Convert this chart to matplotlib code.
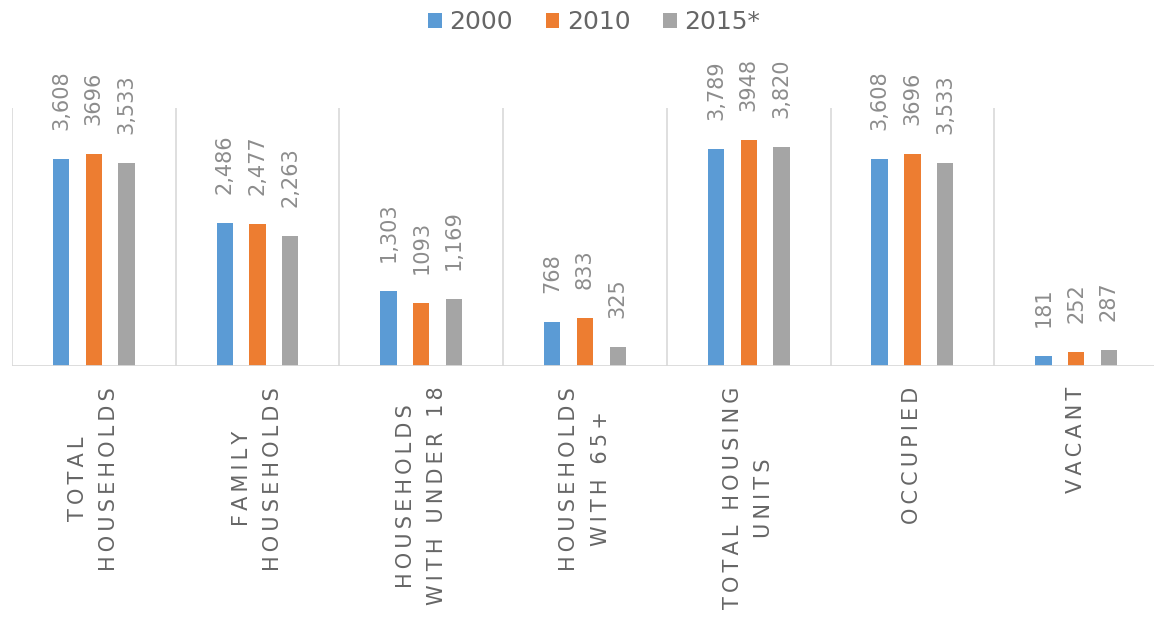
import numpy as np
import matplotlib
matplotlib.use('Agg')
import matplotlib.pyplot as plt

# Datos del gráfico
categorias = ['TOTAL\nHOUSEHOLDS', 'FAMILY\nHOUSEHOLDS', 'HOUSEHOLDS\nWITH UNDER 18',
              'HOUSEHOLDS\nWITH 65+', 'TOTAL HOUSING\nUNITS', 'OCCUPIED', 'VACANT']
anios = ['2000', '2010', '2015*']
valores_2000 = [3608, 2486, 1303, 768, 3789, 3608, 181]
valores_2010 = [3696, 2477, 1093, 833, 3948, 3696, 252]
valores_2015 = [3533, 2263, 1169, 325, 3820, 3533, 287]
etiquetas_2000 = ['3,608', '2,486', '1,303', '768', '3,789', '3,608', '181']
etiquetas_2010 = ['3696', '2,477', '1093', '833', '3948', '3696', '252']
etiquetas_2015 = ['3,533', '2,263', '1,169', '325', '3,820', '3,533', '287']

colores = ['#5B9BD5', '#ED7D31', '#A5A5A5']

THIN = '\u2009'


def espaciar(texto):
    # imita el espaciado de letras de Excel
    lineas = []
    for linea in texto.split('\n'):
        palabras = [THIN.join(list(p)) for p in linea.split(' ')]
        lineas.append((THIN + ' ' + THIN).join(palabras))
    return '\n'.join(lineas)


fig = plt.figure(figsize=(11.54, 6.22), dpi=100)
ax = fig.add_axes([12 / 1154, 256 / 622, 1146 / 1154, 258 / 622])

x = np.arange(len(categorias))
ancho = 0.1
series = [valores_2000, valores_2010, valores_2015]
etiquetas = [etiquetas_2000, etiquetas_2010, etiquetas_2015]

for i, (vals, labs) in enumerate(zip(series, etiquetas)):
    pos = x + (i - 1) * 0.2
    ax.bar(pos, vals, width=ancho, color=colores[i], label=anios[i], zorder=3)
    for xp, v, t in zip(pos, vals, labs):
        ax.annotate(t, (xp, v), xytext=(0, 29), textcoords='offset pixels',
                    rotation=90, ha='center', va='bottom', fontsize=15,
                    color='#8C8C8C')

ymax = 4500
ax.set_ylim(0, ymax)
ax.set_xlim(-0.5, len(categorias) - 0.5)

# separadores entre categorías
ax.vlines(np.arange(len(categorias) + 1) - 0.5, 0, ymax, color='#D9D9D9', lw=1.2, zorder=1)
ax.axhline(0, color='#D9D9D9', lw=2, zorder=4)

for s in ax.spines.values():
    s.set_visible(False)
ax.set_yticks([])
ax.set_xticks(x)
ax.set_xticklabels([espaciar(c) for c in categorias], rotation=90, fontsize=15,
                   color='#666666', multialignment='center')
for lbl in ax.get_xticklabels():
    lbl.set_linespacing(1.7)
ax.tick_params(axis='x', length=0, pad=15)

ax.legend(loc='upper center', bbox_to_anchor=(0.515, 1.02), bbox_transform=fig.transFigure,
          ncol=3, frameon=False, fontsize=18, handlelength=0.55, handleheight=0.55,
          handletextpad=0.3, columnspacing=1.3, labelcolor='#666666')

plt.savefig('out.png', dpi=100)
plt.close()
